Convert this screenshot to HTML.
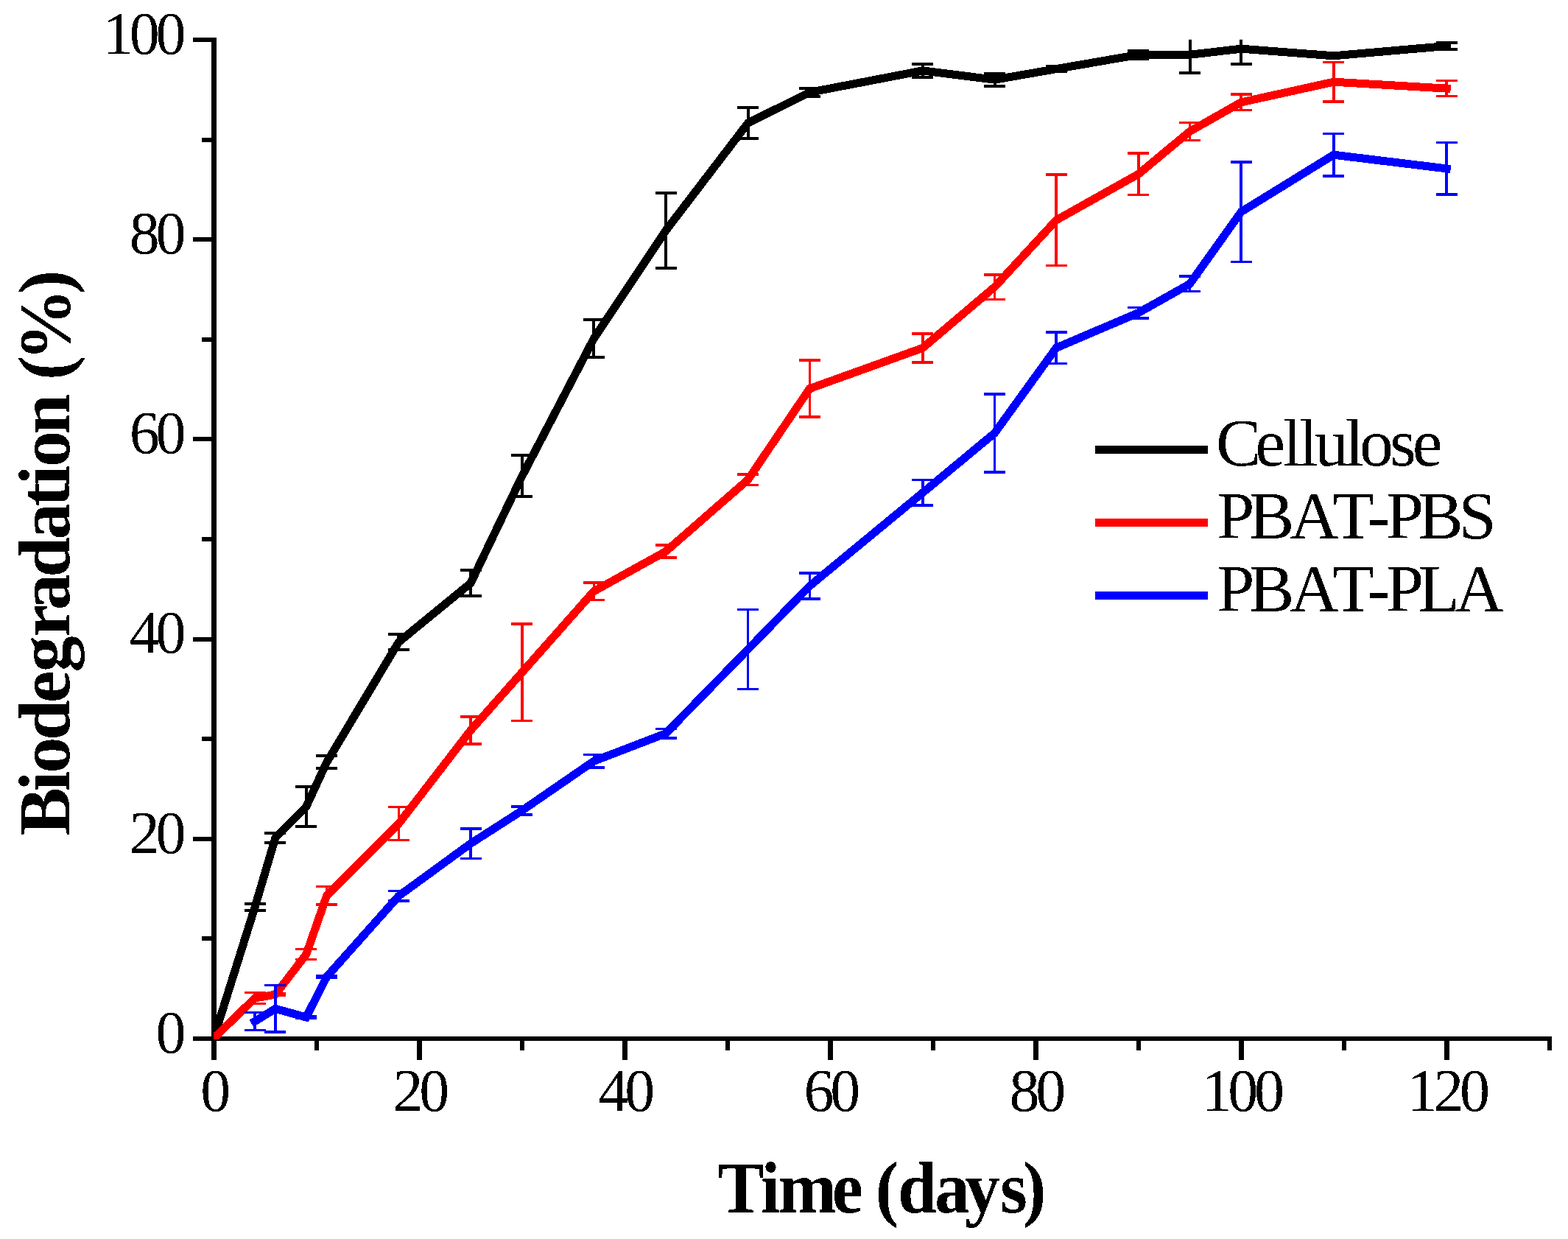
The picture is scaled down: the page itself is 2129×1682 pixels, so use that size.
<!DOCTYPE html>
<html lang="en">
<head>
<meta charset="utf-8">
<title>Biodegradation (%) vs Time (days)</title>
<style>
html,body{margin:0;padding:0;background:#fff;}
body{width:2129px;height:1682px;overflow:hidden;}
svg{display:block;}
text{font-family:"Liberation Serif","DejaVu Serif",serif;fill:#000;font-kerning:none;font-variant-ligatures:none;white-space:pre;}
.tick{font-size:82px;}
.ttl{font-size:100px;font-weight:bold;}
.leg{font-size:92px;}
</style>
</head>
<body>
<svg width="2129" height="1682" viewBox="0 0 2129 1682">
<rect width="2129" height="1682" fill="#fff"/>
<defs><filter id="bin" x="-5%" y="-5%" width="110%" height="110%" color-interpolation-filters="sRGB"><feComponentTransfer><feFuncA type="discrete" tableValues="0 1"/></feComponentTransfer></filter><clipPath id="plot"><rect x="290" y="53.7" width="1817" height="1357.3"/></clipPath></defs>

<g fill="#000" shape-rendering="crispEdges">
<rect x="287" y="51" width="7" height="1388"/>
<rect x="262" y="1407" width="1845" height="6"/>
<rect x="274" y="1271.4" width="14" height="6"/>
<rect x="262" y="1135.8" width="26" height="6"/>
<rect x="274" y="1000.2" width="14" height="6"/>
<rect x="262" y="864.6" width="26" height="6"/>
<rect x="274" y="729.0" width="14" height="6"/>
<rect x="262" y="593.4" width="26" height="6"/>
<rect x="274" y="457.8" width="14" height="6"/>
<rect x="262" y="322.2" width="26" height="6"/>
<rect x="274" y="186.6" width="14" height="6"/>
<rect x="262" y="51.0" width="26" height="6"/>
<rect x="427.0" y="1412" width="6" height="14"/>
<rect x="566.0" y="1412" width="7" height="27"/>
<rect x="706.0" y="1412" width="6" height="14"/>
<rect x="845.0" y="1412" width="7" height="27"/>
<rect x="985.0" y="1412" width="6" height="14"/>
<rect x="1124.0" y="1412" width="7" height="27"/>
<rect x="1264.0" y="1412" width="6" height="14"/>
<rect x="1403.0" y="1412" width="7" height="27"/>
<rect x="1543.0" y="1412" width="6" height="14"/>
<rect x="1682.0" y="1412" width="7" height="27"/>
<rect x="1822.0" y="1412" width="6" height="14"/>
<rect x="1961.0" y="1412" width="7" height="27"/>
<rect x="2101.0" y="1412" width="6" height="14"/>
</g>
<g clip-path="url(#plot)" shape-rendering="crispEdges">
<path fill="none" stroke="#000" stroke-width="4" d="M346.1 1226.8V1236.3M331.6 1226.8h29 M331.6 1236.3h29M373.9 1131.1V1143.6M359.4 1131.1h29 M359.4 1143.6h29M415.8 1067.9V1122.1M401.3 1067.9h29 M401.3 1122.1h29M443.7 1026.2V1043.0M429.2 1026.2h29 M429.2 1043.0h29M541.4 860.9V882.3M526.9 860.9h29 M526.9 882.3h29M639.0 774.0V809.3M624.5 774.0h29 M624.5 809.3h29M708.8 618.4V674.3M694.2 618.4h29 M694.2 674.3h29M806.4 433.9V484.9M791.9 433.9h29 M791.9 484.9h29M904.0 261.8V364.3M889.5 261.8h29 M889.5 364.3h29M1015.6 146.4V187.7M1001.1 146.4h29 M1001.1 187.7h29M1099.3 119.9V131.0M1084.8 119.9h29 M1084.8 131.0h29M1252.8 86.9V104.8M1238.3 86.9h29 M1238.3 104.8h29M1350.5 100.0V116.5M1336.0 100.0h29 M1336.0 116.5h29M1434.1 89.8V97.4M1419.6 89.8h29 M1419.6 97.4h29M1545.8 69.0V79.6M1531.2 69.0h29 M1531.2 79.6h29M1615.5 49.7V99.0M1601.0 49.7h29 M1601.0 99.0h29M1685.2 45.1V87.3M1670.8 45.1h29 M1670.8 87.3h29M1964.2 58.1V67.0M1949.8 58.1h29 M1949.8 67.0h29"/>
<polyline fill="none" stroke="#000" stroke-width="11" stroke-linejoin="miter" stroke-linecap="square" points="290.2,1409.5 346.1,1231.5 373.9,1137.3 415.8,1095.0 443.7,1034.6 541.4,871.6 639.0,791.7 708.8,646.4 806.4,459.4 904.0,313.0 1015.6,167.0 1099.3,125.4 1252.8,95.9 1350.5,108.2 1434.1,93.6 1545.8,74.3 1615.5,74.3 1685.2,66.2 1810.8,75.8 1964.2,62.5"/>
<path fill="none" stroke="#f00" stroke-width="3.5" d="M346.1 1347.6V1362.5M331.6 1347.6h29 M331.6 1362.5h29M373.9 1348.8V1351.4M359.4 1348.8h29 M359.4 1351.4h29M415.8 1288.6V1302.7M401.3 1288.6h29 M401.3 1302.7h29M443.7 1203.5V1227.9M429.2 1203.5h29 M429.2 1227.9h29M541.4 1095.4V1140.7M526.9 1095.4h29 M526.9 1140.7h29M639.0 973.0V1009.9M624.5 973.0h29 M624.5 1009.9h29M708.8 847.1V978.6M694.2 847.1h29 M694.2 978.6h29M806.4 791.0V814.3M791.9 791.0h29 M791.9 814.3h29M904.0 739.9V757.2M889.5 739.9h29 M889.5 757.2h29M1015.6 643.8V658.7M1001.1 643.8h29 M1001.1 658.7h29M1099.3 489.0V566.2M1084.8 489.0h29 M1084.8 566.2h29M1252.8 452.8V492.1M1238.3 452.8h29 M1238.3 492.1h29M1350.5 372.8V406.4M1336.0 372.8h29 M1336.0 406.4h29M1434.1 237.1V360.7M1419.6 237.1h29 M1419.6 360.7h29M1545.8 208.0V264.6M1531.2 208.0h29 M1531.2 264.6h29M1615.5 166.5V190.4M1601.0 166.5h29 M1601.0 190.4h29M1685.2 128.0V149.7M1670.8 128.0h29 M1670.8 149.7h29M1810.8 84.4V138.0M1796.3 84.4h29 M1796.3 138.0h29M1964.2 109.7V130.6M1949.8 109.7h29 M1949.8 130.6h29"/>
<polyline fill="none" stroke="#f00" stroke-width="11" stroke-linejoin="miter" stroke-linecap="square" points="290.2,1409.5 346.1,1355.0 373.9,1350.1 415.8,1295.6 443.7,1215.7 541.4,1118.1 639.0,991.5 708.8,912.8 806.4,802.6 904.0,748.6 1015.6,651.2 1099.3,527.6 1252.8,472.4 1350.5,389.6 1434.1,298.9 1545.8,236.3 1615.5,178.4 1685.2,138.9 1810.8,111.2 1964.2,120.1"/>
<path fill="none" stroke="#00f" stroke-width="3.5" d="M346.1 1374.5V1398.4M331.6 1374.5h29 M331.6 1398.4h29M373.9 1337.5V1401.2M359.4 1337.5h29 M359.4 1401.2h29M415.8 1379.7V1382.4M401.3 1379.7h29 M401.3 1382.4h29M443.7 1324.5V1327.2M429.2 1324.5h29 M429.2 1327.2h29M541.4 1209.7V1223.0M526.9 1209.7h29 M526.9 1223.0h29M639.0 1124.8V1165.5M624.5 1124.8h29 M624.5 1165.5h29M708.8 1095.0V1105.9M694.2 1095.0h29 M694.2 1105.9h29M806.4 1024.7V1041.8M791.9 1024.7h29 M791.9 1041.8h29M904.0 989.4V1001.9M889.5 989.4h29 M889.5 1001.9h29M1015.6 827.7V935.3M1001.1 827.7h29 M1001.1 935.3h29M1099.3 778.0V812.9M1084.8 778.0h29 M1084.8 812.9h29M1252.8 651.6V686.1M1238.3 651.6h29 M1238.3 686.1h29M1350.5 534.8V641.1M1336.0 534.8h29 M1336.0 641.1h29M1434.1 451.0V493.6M1419.6 451.0h29 M1419.6 493.6h29M1545.8 417.4V431.8M1531.2 417.4h29 M1531.2 431.8h29M1615.5 375.1V395.7M1601.0 375.1h29 M1601.0 395.7h29M1685.2 219.8V355.3M1670.8 219.8h29 M1670.8 355.3h29M1810.8 181.4V238.9M1796.3 181.4h29 M1796.3 238.9h29M1964.2 193.6V264.1M1949.8 193.6h29 M1949.8 264.1h29"/>
<polyline fill="none" stroke="#00f" stroke-width="11" stroke-linejoin="miter" stroke-linecap="square" points="346.1,1386.5 373.9,1369.4 415.8,1381.0 443.7,1325.9 541.4,1216.3 639.0,1145.2 708.8,1100.4 806.4,1033.2 904.0,995.7 1015.6,881.5 1099.3,795.5 1252.8,668.9 1350.5,587.9 1434.1,472.3 1545.8,424.6 1615.5,385.4 1685.2,287.6 1810.8,210.2 1964.2,228.9"/>
</g>
<g filter="url(#bin)">
<text class="tick" x="211.4" y="1428.7">0</text>
<text class="tick" x="175.7 211.4" y="1157.5">20</text>
<text class="tick" x="175.7 211.4" y="886.3">40</text>
<text class="tick" x="175.7 211.4" y="615.1">60</text>
<text class="tick" x="175.7 211.4" y="343.9">80</text>
<text class="tick" x="139.9 175.7 211.4" y="72.7">100</text>
<text class="tick" x="272.3" y="1508">0</text>
<text class="tick" x="533.5 569.2" y="1508">20</text>
<text class="tick" x="812.5 848.2" y="1508">40</text>
<text class="tick" x="1091.5 1127.2" y="1508">60</text>
<text class="tick" x="1370.5 1406.2" y="1508">80</text>
<text class="tick" x="1631.6 1667.3 1703.1" y="1508">100</text>
<text class="tick" x="1910.6 1946.3 1982.1" y="1508">120</text>
<text class="ttl" style="font-size:100px" transform="scale(0.95 1)" x="1025.6 1087.3 1112.3 1189.2 1229.9 1251.2 1283.2 1335.8 1379.2 1429.6 1461.8" y="1646.0">Time (days)</text>
<text class="ttl" style="font-size:100px" transform="translate(94.0 0) rotate(-90) scale(0.98 1)" x="-1157.6 -1095.9 -1071.1 -1025.3 -973.6 -931.0 -881.9 -845.0 -799.7 -747.3 -702.0 -672.4 -646.8 -601.4 -552.0 -526.5 -499.9 -407.4" y="0">Biodegradation (%)</text>
<rect x="1487" y="604.7" width="153" height="11.2" fill="#000" shape-rendering="crispEdges"/>
<rect x="1487" y="703.7" width="153" height="11.2" fill="#f00" shape-rendering="crispEdges"/>
<rect x="1487" y="802.8" width="153" height="11.2" fill="#00f" shape-rendering="crispEdges"/>
<text class="leg" style="font-size:92px" x="1650.9 1704.3 1742.0 1764.0 1784.9 1826.3 1846.0 1886.9 1917.8" y="632.2">Cellulose</text>
<text class="leg" style="font-size:92px" x="1652.2 1695.9 1751.6 1809.4 1856.6 1881.9 1925.5 1980.6" y="730.8">PBAT-PBS</text>
<text class="leg" style="font-size:92px" x="1652.2 1695.9 1751.6 1809.4 1856.6 1881.9 1925.5 1975.6" y="829.6">PBAT-PLA</text>
</g>
</svg>
</body>
</html>
